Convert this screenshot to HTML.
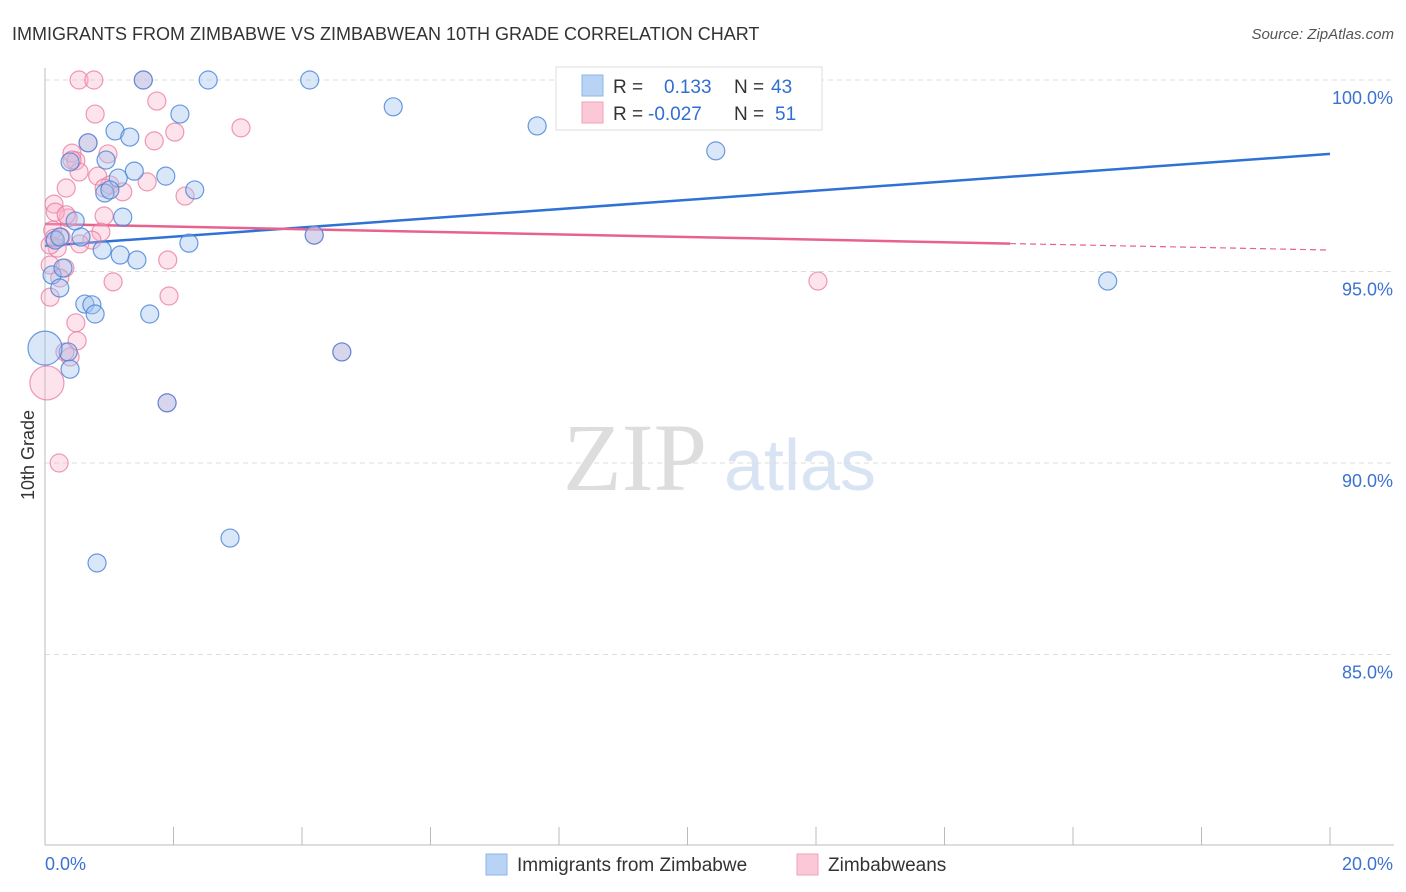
<!DOCTYPE html>
<html><head><meta charset="utf-8"><style>
body{margin:0;background:#fff;font-family:"Liberation Sans",sans-serif;}
svg{display:block}
</style></head><body>
<svg id="chart" width="1406" height="892" xmlns="http://www.w3.org/2000/svg">
<text x="12" y="40" font-size="18" fill="#333">IMMIGRANTS FROM ZIMBABWE VS ZIMBABWEAN 10TH GRADE CORRELATION CHART</text>
<text x="1394" y="39" font-size="15" fill="#555" font-style="italic" text-anchor="end">Source: ZipAtlas.com</text>
<text x="0" y="0" transform="translate(34,455) rotate(-90)" font-size="18" fill="#333" text-anchor="middle">10th Grade</text>
<g><text x="635" y="490" font-size="96" fill="#ddd" font-family="Liberation Serif,serif" text-anchor="middle">ZIP</text><text x="800" y="490" font-size="72" fill="#d8e4f4" text-anchor="middle">atlas</text></g>
<g id="grid"></g><g id="axes"></g><g id="lines"></g><g id="pts"></g>
<g>
<rect x="556" y="67" width="266" height="63" fill="#fff" stroke="#ddd"/>
<rect x="582" y="75" width="21" height="21" fill="#b9d3f5" stroke="#8db4ea"/>
<rect x="582" y="102" width="21" height="21" fill="#fac8d7" stroke="#f0a0b9"/>
<text x="613" y="93" font-size="19" fill="#333">R = <tspan x="664" fill="#2f6fd0">0.133</tspan><tspan x="734" fill="#333">N = </tspan><tspan x="771" fill="#2f6fd0">43</tspan></text>
<text x="613" y="120" font-size="19" fill="#333">R = <tspan x="648" fill="#2f6fd0">-0.027</tspan><tspan x="734" fill="#333">N = </tspan><tspan x="775" fill="#2f6fd0">51</tspan></text>
</g>
<g>
<rect x="486" y="854" width="21" height="21" fill="#b9d3f5" stroke="#8db4ea"/>
<text x="517" y="871" font-size="19" fill="#333">Immigrants from Zimbabwe</text>
<rect x="797" y="854" width="21" height="21" fill="#fac8d7" stroke="#f0a0b9"/>
<text x="828" y="871" font-size="19" fill="#333">Zimbabweans</text>
</g>
</svg>
<script>
const blueX=[1.53,2.54,4.12,5.42,7.66,10.44,2.10,1.09,1.32,0.95,1.39,1.88,2.33,1.14,0.93,1.01,1.21,0.47,0.56,0.16,0.23,0.89,1.17,1.43,2.24,4.19,0.11,0.28,0.23,0.62,0.73,0.78,1.63,0.36,0.39,0.0,4.62,1.90,2.88,0.81,16.54,0.67,0.39];
const blueY=[100,100,100,99.30,98.80,98.15,99.11,98.67,98.51,97.91,97.62,97.49,97.13,97.44,97.05,97.13,96.42,96.32,95.90,95.82,95.90,95.56,95.43,95.30,95.74,95.95,94.91,95.09,94.57,94.15,94.13,93.89,93.89,92.90,92.45,93.00,92.90,91.57,88.04,87.39,94.75,98.36,97.86];
const blueBig=[35];
const pinkX=[0.53,0.76,1.53,1.74,0.78,2.02,3.05,1.70,0.67,0.42,0.98,0.48,0.53,0.33,0.82,1.01,1.59,1.21,2.18,0.14,0.36,0.92,0.87,0.12,0.25,0.73,0.19,0.08,0.31,0.23,0.08,1.93,1.06,1.91,0.48,0.50,0.39,0.31,0.03,0.22,12.03,4.19,4.62,1.90,0.08,0.14,0.92,0.54,0.16,0.42,0.33];
const pinkY=[100,100,100,99.45,99.11,98.64,98.75,98.41,98.36,98.09,98.07,97.89,97.60,97.18,97.49,97.26,97.34,97.08,96.97,96.76,96.40,96.45,96.03,96.08,95.90,95.82,95.61,95.17,95.09,94.83,94.33,94.36,94.73,95.30,93.66,93.19,92.77,92.90,92.09,90.00,94.75,95.95,92.90,91.57,95.69,95.87,97.18,95.72,96.55,97.91,96.48];
const pinkBig=[38];
const yTicks=[100,95,90,85];
const yTickLabels=["100.0%","95.0%","90.0%","85.0%"];
const xTicks=[0,2,4,6,8,10,12,14,16,18,20];
const blueTrend=[95.67,98.07];
const pinkTrend=[96.24,95.56];
const pinkSolidEnd=15.02;

const NS="http://www.w3.org/2000/svg";
const X=v=>45+v*64.25;
const Y=v=>80+(100-v)*38.3;
function mk(tag,attrs,parent){const e=document.createElementNS(NS,tag);for(const k in attrs)e.setAttribute(k,attrs[k]);document.getElementById(parent).appendChild(e);return e;}
yTicks.forEach((t,i)=>{
  const g=mk('line',{x1:45,x2:1394,y1:Y(t),y2:Y(t),stroke:'#ddd','stroke-dasharray':'5,4'},'grid');
  
  
  const l=mk('text',{x:1393,y:Y(t)+24,'font-size':18,fill:'#3b72d0','text-anchor':'end'},'axes');
  l.textContent=yTickLabels[i];
  
  
});
const ax=mk('line',{x1:45,x2:45,y1:68,y2:845,stroke:'#bbb'},'axes');


const bx=mk('line',{x1:45,x2:1394,y1:845,y2:845,stroke:'#bbb'},'axes');


xTicks.forEach(t=>{
  const tk=mk('line',{x1:X(t),x2:X(t),y1:827,y2:845,stroke:'#bbb'},'axes');
  
  
});
const x0=mk('text',{x:45,y:870,'font-size':18,fill:'#3b72d0'},'axes');x0.textContent="0.0%";


const x1=mk('text',{x:1393,y:870,'font-size':18,fill:'#3b72d0','text-anchor':'end'},'axes');x1.textContent="20.0%";



function drawPts(xs,ys,big,fill,stroke,name){
  xs.forEach((x,i)=>{
    const c=mk('circle',{cx:X(x),cy:Y(ys[i]),r:big.includes(i)?17:9,fill:fill,stroke:stroke,'stroke-width':1.2},'pts');
    
    
  });
}
drawPts(pinkX,pinkY,pinkBig,'rgba(248,175,198,0.35)','rgba(232,120,160,0.75)','point-zimbabweans');
drawPts(blueX,blueY,blueBig,'rgba(160,196,240,0.4)','rgba(70,130,215,0.8)','point-immigrants-zimbabwe');

const bl=mk('line',{x1:X(0),y1:Y(blueTrend[0]),x2:X(20),y2:Y(blueTrend[1]),stroke:'#2f72d6','stroke-width':2.5},'lines');


const pm=pinkTrend[0]+(pinkTrend[1]-pinkTrend[0])*pinkSolidEnd/20;
const pl=mk('line',{x1:X(0),y1:Y(pinkTrend[0]),x2:X(pinkSolidEnd),y2:Y(pm),stroke:'#e8628f','stroke-width':2.5},'lines');


const pd=mk('line',{x1:X(pinkSolidEnd),y1:Y(pm),x2:X(20),y2:Y(pinkTrend[1]),stroke:'#e8628f','stroke-width':1.2,'stroke-dasharray':'6,4'},'lines');


</script>
</body></html>
